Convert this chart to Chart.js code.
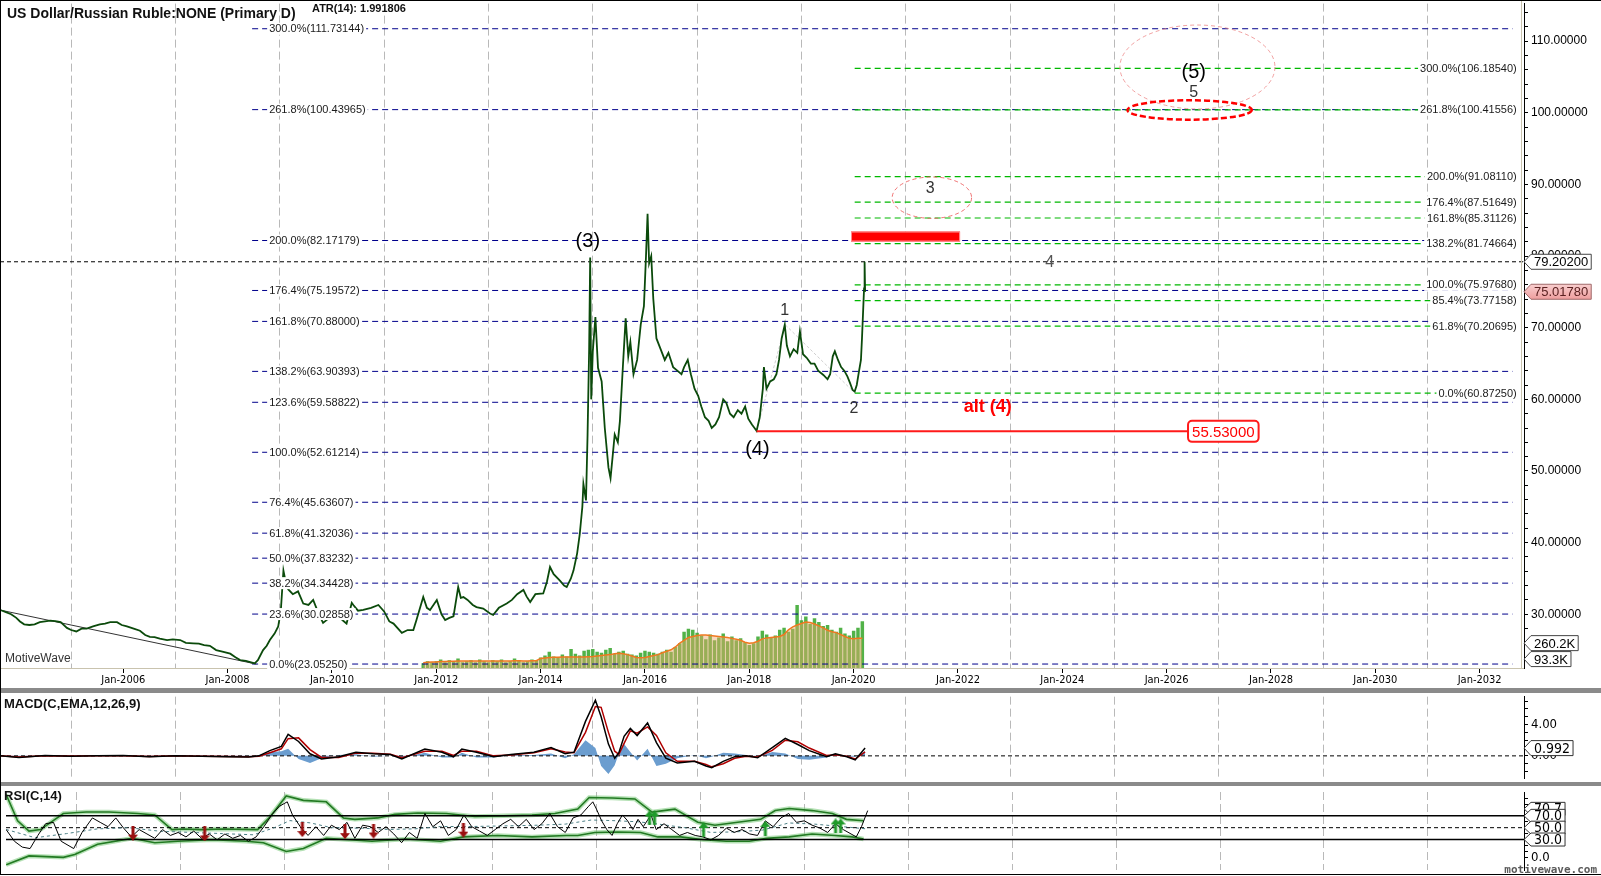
<!DOCTYPE html>
<html>
<head>
<meta charset="utf-8">
<title>US Dollar/Russian Ruble</title>
<script src="https://cdn.jsdelivr.net/npm/chart.js@4.4.1/dist/chart.umd.min.js"></script>
<style>
  html, body { margin: 0; padding: 0; background: #fff; }
  #frame { position: relative; width: 1601px; height: 876px; overflow: hidden; background: #fff; }
  #frame canvas { position: absolute; left: 0; }
  .sep { position: absolute; left: 0; width: 1601px; background: #8a8a8a; }
  #edge { position: absolute; left: 0; top: 0; width: 1601px; height: 875px; border-left: 1px solid #000; border-top: 1px solid #000; border-bottom: 1px solid #000; box-sizing: border-box; pointer-events: none; }
</style>
</head>
<body>
<div id="frame">
  <canvas id="mainChart" width="1601" height="688" style="top:0"></canvas>
  <div class="sep" style="top:688px;height:5px"></div>
  <canvas id="macdChart" width="1601" height="89" style="top:693px"></canvas>
  <div class="sep" style="top:782px;height:4px"></div>
  <canvas id="rsiChart" width="1601" height="90" style="top:786px"></canvas>
  <div id="edge"></div>
</div>
<script>
// ---- 数据 ----
// 价格 (USD/RUB, 年份为小数)
const priceYears = [
  2003.64,2003.75,2003.85,2003.95,2004.02,2004.10,2004.20,2004.30,2004.40,2004.50,
  2004.60,2004.70,2004.80,2004.92,2005.00,2005.10,2005.20,2005.30,2005.42,2005.55,
  2005.65,2005.75,2005.88,2005.97,2006.07,2006.20,2006.32,2006.42,2006.51,2006.60,
  2006.70,2006.84,2006.95,2007.09,2007.20,2007.34,2007.45,2007.55,2007.66,2007.78,
  2007.90,2008.05,2008.15,2008.24,2008.35,2008.45,2008.52,2008.58,2008.68,2008.75,
  2008.81,2008.90,2008.97,2009.02,2009.07,2009.10,2009.16,2009.25,2009.35,2009.45,
  2009.55,2009.64,2009.75,2009.83,2009.95,2010.10,2010.20,2010.28,2010.38,2010.41,
  2010.50,2010.60,2010.75,2010.89,2011.00,2011.10,2011.18,2011.34,2011.45,2011.56,
  2011.62,2011.75,2011.82,2011.88,2012.01,2012.10,2012.17,2012.25,2012.33,2012.42,
  2012.47,2012.52,2012.60,2012.70,2012.77,2012.90,2013.03,2013.09,2013.20,2013.35,
  2013.45,2013.55,2013.67,2013.73,2013.80,2013.90,2014.05,2014.12,2014.18,2014.25,
  2014.37,2014.45,2014.50,2014.58,2014.63,2014.70,2014.75,2014.80,2014.82,2014.87,
  2014.90,2014.93,2014.95,2014.97,2015.00,2015.05,2015.10,2015.17,2015.23,2015.30,
  2015.34,2015.38,2015.42,2015.48,2015.52,2015.58,2015.63,2015.68,2015.72,2015.78,
  2015.85,2015.92,2015.98,2016.02,2016.05,2016.08,2016.12,2016.16,2016.22,2016.30,
  2016.38,2016.45,2016.54,2016.62,2016.70,2016.75,2016.82,2016.88,2016.95,2017.02,
  2017.08,2017.15,2017.22,2017.28,2017.35,2017.42,2017.50,2017.56,2017.63,2017.70,
  2017.78,2017.85,2017.92,2017.98,2018.05,2018.10,2018.14,2018.20,2018.26,2018.28,
  2018.33,2018.40,2018.47,2018.52,2018.57,2018.62,2018.68,2018.72,2018.78,2018.85,
  2018.92,2018.97,2019.03,2019.10,2019.18,2019.25,2019.32,2019.42,2019.50,2019.55,
  2019.60,2019.64,2019.70,2019.76,2019.82,2019.88,2019.93,2019.98,2020.02,2020.06,
  2020.10,2020.14,2020.16,2020.18,2020.20,2020.21,2020.22
];
const priceValues = [
  30.6,30.3,30.0,29.5,29.0,28.6,28.5,28.6,28.9,29.0,
  29.1,29.05,28.9,28.1,27.8,27.6,28.0,28.0,28.3,28.6,
  28.7,28.9,28.9,28.5,28.3,28.0,27.7,27.1,26.85,26.8,
  26.6,26.4,26.5,26.4,26.0,25.95,25.9,25.7,25.6,25.0,
  24.8,24.5,24.0,23.6,23.5,23.3,23.15,23.6,25.0,25.6,
  26.4,27.3,28.3,30.5,36.1,35.0,33.5,32.8,33.2,31.5,
  31.3,32.0,30.0,28.8,29.5,30.0,29.2,28.7,31.6,31.3,
  30.5,30.6,30.9,31.3,30.4,29.0,28.7,27.4,27.8,27.8,
  29.2,32.4,30.9,30.6,32.0,30.0,29.2,29.5,29.7,33.8,
  32.3,32.4,32.0,31.3,31.0,30.8,30.1,29.9,30.9,31.5,
  32.0,32.8,33.4,32.5,31.7,32.8,32.9,34.5,36.6,35.6,
  34.7,34.0,33.8,35.0,36.1,38.5,41.2,45.0,48.2,45.9,
  55.1,67.0,79.8,60.0,66.7,71.5,64.4,62.5,56.0,50.5,
  49.0,52.0,55.1,54.0,57.0,65.0,71.3,66.0,68.0,63.5,
  65.5,70.5,73.0,80.0,85.9,79.0,80.0,74.0,68.5,67.0,
  65.5,66.5,64.5,64.0,63.5,64.5,65.5,63.5,61.5,60.5,
  59.0,57.5,57.0,56.0,56.5,57.5,60.0,59.5,58.0,57.5,
  58.5,58.0,59.0,57.3,56.5,56.0,55.6,57.5,61.5,64.5,
  61.5,62.5,62.8,63.5,65.5,68.5,70.4,67.5,66.0,67.0,
  66.5,69.5,66.3,65.8,65.0,65.0,64.0,63.4,62.8,63.5,
  66.0,66.7,65.5,64.5,64.0,63.2,62.3,61.3,61.1,62.0,
  63.8,65.5,68.5,72.0,75.5,79.2,75.0
];

// 成交量 (K), 每月一根, 从 2011 年 10 月开始
const volumeStart = 2011.75;
const volumeValues = [
  50,70,60,
  70,90,60,80,70,100,60,70,80,60,90,70,
  60,80,70,90,60,70,100,80,60,70,90,80,
  110,130,170,120,110,140,120,200,150,130,180,190,
  200,170,160,190,210,150,170,180,150,140,130,160,
  180,170,160,150,170,190,170,220,260,380,410,400,
  370,340,300,350,290,320,360,280,330,290,310,270,
  240,260,330,390,350,320,340,400,420,380,410,660,
  500,540,460,520,480,440,450,400,380,420,360,340,
  390,420,490
];
const volumeMA = [
  55,60,62,
  64,68,68,70,70,74,72,72,73,72,74,73,
  72,73,72,74,72,72,75,76,74,74,76,77,
  100,105,110,112,112,115,115,115,115,115,115,118,
  120,125,130,135,140,150,155,150,140,125,110,108,
  110,120,130,140,160,175,190,220,260,290,320,330,
  340,345,345,340,335,330,325,320,310,300,290,270,
  260,265,280,305,315,320,325,330,350,400,430,450,
  465,480,475,460,440,420,395,380,370,350,330,310,
  305,310,312
];

// 斐波那契水平
const blueFibLabels = ['300.0%','261.8%','200.0%','176.4%','161.8%','138.2%','123.6%','100.0%','76.4%','61.8%','50.0%','38.2%','23.6%','0.0%'];
const blueFibValues = [111.73144,100.43965,82.17179,75.19572,70.88000,63.90393,59.58822,52.61214,45.63607,41.32036,37.83232,34.34428,30.02858,23.05250];
const greenFibLabels = ['300.0%','261.8%','200.0%','176.4%','161.8%','138.2%','100.0%','85.4%','61.8%','0.0%'];
const greenFibValues = [106.18540,100.41556,91.08110,87.51649,85.31126,81.74664,75.97680,73.77158,70.20695,60.87250];

// 坐标轴刻度
const priceTickLabels = [30,40,50,60,70,80,90,100,110];
const labelYears = [2006,2008,2010,2012,2014,2016,2018,2020,2022,2024,2026,2028,2030,2032];
const gridYears = [2005,2007,2009,2011,2013,2015,2017,2019,2021,2023,2025,2027,2029,2031];
const macdTickLabels = [0,4];

// MACD
const macdYears = [
  2003.64,2004.00,2004.50,2005.00,2005.50,2006.00,2006.50,2007.00,2007.50,2008.00,
  2008.40,2008.60,2008.81,2009.03,2009.16,2009.36,2009.58,2009.80,2010.13,2010.46,
  2010.79,2011.12,2011.34,2011.78,2012.11,2012.33,2012.49,2012.77,2013.10,2013.43,
  2013.87,2014.20,2014.47,2014.64,2014.86,2015.05,2015.16,2015.30,2015.42,2015.50,
  2015.60,2015.72,2015.85,2016.05,2016.22,2016.40,2016.62,2016.95,2017.17,2017.28,
  2017.50,2017.72,2017.94,2018.16,2018.44,2018.69,2018.93,2019.15,2019.48,2019.65,
  2019.87,2020.03,2020.22
];
const macdValues = [
  0.00,-0.20,0.05,-0.05,0.00,0.05,-0.10,0.00,-0.05,-0.10,
  -0.15,0.00,0.67,1.20,2.75,1.84,0.27,-0.39,-0.12,0.47,
  0.27,0.16,-0.39,0.86,0.47,-0.12,0.86,0.47,-0.12,0.16,
  0.47,1.06,0.27,0.47,4.40,7.10,5.00,1.50,-0.30,0.40,
  2.50,3.50,2.60,4.20,1.70,-0.30,-0.90,-0.70,-1.30,-1.50,
  -0.70,-0.10,0.00,-0.24,1.06,2.24,1.45,0.67,-0.12,0.27,
  -0.12,-0.51,1.00
];
const signalValues = [
  0.00,-0.15,0.00,-0.03,0.00,0.03,-0.08,0.00,-0.04,-0.08,
  -0.12,-0.05,0.40,0.90,2.20,2.30,0.80,-0.20,-0.20,0.35,
  0.35,0.20,-0.25,0.60,0.60,0.05,0.60,0.60,0.00,0.10,
  0.40,0.90,0.50,0.40,3.00,6.30,6.20,3.00,0.60,0.20,
  1.60,3.20,2.90,3.70,2.60,0.40,-0.70,-0.70,-1.10,-1.40,
  -1.00,-0.30,-0.05,-0.15,0.70,2.00,1.80,1.00,0.05,0.15,
  -0.05,-0.40,0.50
];
const histValues = [
  0.05,-0.10,0.10,-0.05,0.05,0.05,-0.05,0.05,-0.05,-0.05,
  -0.05,0.10,0.50,0.60,0.90,-0.40,-0.90,-0.30,0.10,0.20,
  -0.10,0.00,-0.20,0.40,-0.20,-0.20,0.40,-0.20,-0.20,0.10,
  0.10,0.30,-0.30,0.20,2.00,1.00,-1.30,-2.30,-1.20,0.30,
  1.50,0.50,-0.60,0.90,-1.30,-1.00,-0.30,0.10,-0.30,-0.10,
  0.40,0.30,0.10,-0.10,0.50,0.30,-0.40,-0.50,-0.20,0.20,
  -0.10,-0.10,0.60
];

// RSI
const rsiYears = [
  2003.64,2003.80,2003.95,2004.10,2004.25,2004.40,2004.55,2004.70,2004.94,2005.10,
  2005.30,2005.45,2005.60,2005.75,2005.90,2006.05,2006.20,2006.35,2006.50,2006.65,
  2006.80,2006.95,2007.10,2007.25,2007.40,2007.55,2007.70,2007.85,2008.00,2008.15,
  2008.30,2008.45,2008.60,2008.75,2008.90,2009.05,2009.15,2009.30,2009.45,2009.60,
  2009.75,2009.90,2010.05,2010.20,2010.35,2010.50,2010.65,2010.80,2010.95,2011.10,
  2011.25,2011.40,2011.55,2011.70,2011.85,2012.00,2012.15,2012.30,2012.45,2012.60,
  2012.75,2012.90,2013.05,2013.20,2013.35,2013.50,2013.65,2013.80,2013.95,2014.10,
  2014.25,2014.40,2014.55,2014.70,2014.85,2014.93,2015.00,2015.10,2015.20,2015.30,
  2015.40,2015.50,2015.60,2015.70,2015.80,2015.90,2016.05,2016.15,2016.30,2016.45,
  2016.60,2016.75,2016.90,2017.05,2017.20,2017.35,2017.50,2017.65,2017.80,2017.95,
  2018.10,2018.25,2018.40,2018.55,2018.70,2018.85,2019.00,2019.15,2019.30,2019.45,
  2019.60,2019.75,2019.90,2020.00,2020.10,2020.22
];
const rsiValues = [
  46.8,27.0,17.2,14.7,36.9,56.7,59.0,27.0,14.7,41.9,
  66.5,59.0,51.7,66.5,49.3,34.4,46.8,39.4,32.0,46.8,
  36.9,41.9,34.4,44.3,32.0,39.4,29.5,39.4,32.0,36.9,
  27.0,34.4,51.7,71.5,86.3,93.7,71.5,51.7,36.9,51.7,
  36.9,54.2,46.8,59.0,32.0,54.2,51.7,41.9,51.7,39.4,
  24.6,41.9,32.0,74.0,51.7,61.6,36.9,46.8,71.5,51.7,
  44.3,36.9,46.8,56.7,64.1,51.7,64.1,46.8,56.7,74.0,
  51.7,41.9,66.5,71.5,86.3,93.7,81.4,61.6,46.8,36.9,
  56.7,71.5,61.6,46.8,64.1,51.7,71.5,46.8,56.7,46.8,
  36.9,41.9,36.9,34.4,29.5,36.9,49.3,41.9,46.8,39.4,
  36.9,61.6,51.7,66.5,74.0,59.0,61.6,54.2,49.3,41.9,
  56.7,46.8,39.4,34.4,51.7,78.9
];
const rsiMAYears = [2003.64,2004.2,2004.8,2005.4,2006.0,2006.6,2007.2,2007.8,2008.4,2008.8,2009.1,2009.5,2009.9,2010.5,2011.0,2011.5,2012.0,2012.6,2013.2,2013.8,2014.4,2014.9,2015.3,2015.8,2016.2,2016.7,2017.2,2017.7,2018.2,2018.7,2019.2,2019.7,2020.2];
const rsiMAValues = [47,33,40,48,50,44,42,40,38,50,62,58,50,49,47,48,52,52,53,54,56,63,62,60,56,50,42,43,46,58,56,52,48];
const upperYears = [2003.64,2003.86,2004.08,2004.30,2004.74,2005.18,2005.62,2006.17,2006.50,2006.83,2007.05,2007.38,2007.82,2008.48,2008.70,2009.03,2009.36,2009.80,2010.13,2010.35,2010.79,2011.12,2011.56,2012.11,2012.66,2013.21,2013.76,2014.20,2014.64,2014.86,2015.30,2015.74,2016.07,2016.51,2016.95,2017.28,2017.72,2018.16,2018.44,2018.71,2019.15,2019.54,2019.81,2020.14];
const upperValues = [106,61.6,44.3,46.8,73.9,76.4,76.4,73.9,71.5,46.8,47.8,46.8,47.8,46.8,66.5,103.6,96.2,93.7,66.5,64.1,66.5,72.5,74.9,73.9,69.0,70.0,71.5,73.9,81.4,101.1,100.1,98.6,76.4,81.4,59.1,54.2,59.1,64.1,78.9,82.3,78.9,73.9,64.1,61.6];
const lowerYears = [2003.64,2004.08,2004.74,2004.96,2005.40,2006.06,2006.50,2006.94,2007.60,2008.26,2008.59,2009.03,2009.36,2009.80,2010.24,2010.68,2011.34,2012.00,2012.44,2013.10,2013.76,2014.42,2014.64,2014.97,2015.41,2015.85,2016.18,2016.62,2017.06,2017.50,2017.94,2018.27,2018.71,2019.15,2019.59,2019.92,2020.14];
const lowerValues = [-12.5,2.3,-0.1,4.8,22.1,32.0,24.6,27.0,29.5,27.0,24.6,9.8,14.7,32.0,29.5,27.0,31.0,27.0,34.4,36.9,34.4,36.9,36.9,41.9,42.8,41.9,34.4,34.4,29.5,27.0,27.0,32.0,34.4,39.4,36.9,34.4,31.0];
const downArrowYears = [2006.08,2007.46,2009.34,2010.16,2010.71,2012.44];
const downArrowValues = [40.9,39.4,46.8,43.3,44.3,45.8];
const upArrowYears = [2016.07,2017.06,2018.25,2019.65];
const upArrowValues = [66.5,47.0,49.0,53.0];

// 最新值
const lastHigh = 79.202, lastClose = 75.0178, supportLevel = 55.53;
const lastVolume = 260.2, lastVolumeMA = 93.3, lastMacd = 0.992, lastRsi = 70.7;

// ---- 布局常量 ----
const X_MIN = 2003.637, X_MAX = 2032.85;
const BLUE_START = 2008.47, BLUE_END = 2032.63;
const GREEN_START = 2020.02, GREEN_END = 2032.71;
const FONT = "'Liberation Sans', Arial, sans-serif";
const NARROW = "'Liberation Sans Narrow', 'Arial Narrow', 'DejaVu Sans Condensed', 'Liberation Sans', sans-serif";

const toPoints = (xs, ys) => xs.map((x, i) => ({ x: x, y: ys[i] }));
const hLine = (v, x0, x1) => [{ x: x0, y: v }, { x: x1, y: v }];

function timeAxis(withLabels) {
  return {
    type: 'linear', min: X_MIN, max: X_MAX, offset: false,
    afterBuildTicks(scale) {
      scale.ticks = gridYears.concat(labelYears).sort((a, b) => a - b).map(v => ({ value: v }));
    },
    afterFit(scale) { scale.height = withLabels ? 20 : 0; },
    ticks: {
      display: withLabels, autoSkip: false, maxRotation: 0, padding: 1, color: '#000',
      font: { family: NARROW, size: 11 },
      callback: v => labelYears.includes(v) ? 'Jan-' + v : ''
    },
    grid: {
      offset: false, drawTicks: withLabels, tickLength: 5, lineWidth: 1,
      color: c => (c.tick && gridYears.includes(c.tick.value)) ? '#b9b9b9' : 'rgba(0,0,0,0)',
      tickColor: c => (c.tick && labelYears.includes(c.tick.value)) ? '#000' : 'rgba(0,0,0,0)'
    },
    border: { display: withLabels, color: '#c9c3ae', dash: [8, 4] }
  };
}

function rightAxis(min, max, tickVals, labelFn, font) {
  return {
    position: 'right', min: min, max: max,
    afterBuildTicks(scale) { scale.ticks = tickVals.map(v => ({ value: v })); },
    afterFit(scale) { scale.width = 77; },
    ticks: { padding: 3, color: '#000', font: Object.assign({ lineHeight: 0.1 }, font), callback: labelFn },
    grid: { drawOnChartArea: false, tickLength: 4, color: '#000' },
    border: { color: '#000' }
  };
}

// 右侧指针标签
function pointerBox(ctx, x, y, text, o) {
  ctx.font = o.font;
  const w = ctx.measureText(text).width + 6;
  const h = o.h || 15, tip = 7;
  ctx.beginPath();
  ctx.moveTo(x, y);
  ctx.lineTo(x + tip, y - h / 2);
  ctx.lineTo(x + tip + w, y - h / 2);
  ctx.lineTo(x + tip + w, y + h / 2);
  ctx.lineTo(x + tip, y + h / 2);
  ctx.closePath();
  ctx.fillStyle = o.fill; ctx.fill();
  ctx.lineWidth = 1; ctx.strokeStyle = o.stroke; ctx.stroke();
  ctx.fillStyle = o.color || '#000';
  ctx.textAlign = 'left'; ctx.textBaseline = 'middle';
  ctx.fillText(text, x + tip + 3, y + 1);
}

function labelWithBg(ctx, text, x, y, align) {
  const w = ctx.measureText(text).width;
  const left = align === 'right' ? x - w : x;
  ctx.fillStyle = '#fff';
  ctx.fillRect(left - 2, y - 6, w + 4, 12);
  ctx.fillStyle = '#1a1a1a';
  ctx.textAlign = 'left';
  ctx.fillText(text, left, y + 0.5);
}

// 注释：波浪标注、目标区、椭圆
const waveLabels = [
  { t: '(3)', x: 2014.905, y: 82.11, font: '20px ' + FONT, color: '#000' },
  { t: '(4)', x: 2018.156, y: 53.14, font: '20px ' + FONT, color: '#000' },
  { t: '(5)', x: 2026.52, y: 105.8, font: '20px ' + FONT, color: '#000' },
  { t: '1', x: 2018.68, y: 72.57, font: '16px ' + FONT, color: '#333' },
  { t: '2', x: 2020.006, y: 58.9, font: '16px ' + FONT, color: '#333' },
  { t: '3', x: 2021.47, y: 89.5, font: '16px ' + FONT, color: '#333' },
  { t: '4', x: 2023.76, y: 79.2, font: '16px ' + FONT, color: '#555' },
  { t: '5', x: 2026.52, y: 103.0, font: '16px ' + FONT, color: '#333' },
  { t: 'alt (4)', x: 2022.57, y: 59.04, font: 'bold 18px ' + FONT, color: '#ff0000' }
];
const ellipses = [
  { x: 2026.59, y: 106.39, rx: 1.486, ry: 5.86, color: 'rgba(236,130,130,0.75)', width: 1, dash: [4, 3] },
  { x: 2026.44, y: 100.39, rx: 1.192, ry: 1.35, color: '#ff0000', width: 2.5, dash: [6, 3] },
  { x: 2021.50, y: 88.15, rx: 0.761, ry: 2.89, color: 'rgba(236,90,90,0.85)', width: 1, dash: [4, 3] }
];
const targetZone = { x0: 2019.95, x1: 2022.04, y0: 82.03, y1: 83.42 };

const mainDecor = {
  id: 'mainDecor',
  afterDatasetsDraw(chart) {
    const { ctx, scales: { x, y } } = chart;
    ctx.save();
    // 目标区
    const zx0 = x.getPixelForValue(targetZone.x0), zx1 = x.getPixelForValue(targetZone.x1);
    const zy0 = y.getPixelForValue(targetZone.y1), zy1 = y.getPixelForValue(targetZone.y0);
    ctx.fillStyle = '#ff0000';
    ctx.fillRect(zx0, zy0, zx1 - zx0, zy1 - zy0);
    ctx.strokeStyle = '#ff8c8c'; ctx.lineWidth = 1;
    ctx.strokeRect(zx0 + 0.5, zy0 + 0.5, zx1 - zx0 - 1, zy1 - zy0 - 1);
    // 椭圆
    ellipses.forEach(e => {
      const cx = x.getPixelForValue(e.x), cy = y.getPixelForValue(e.y);
      const rx = x.getPixelForValue(e.x + e.rx) - cx, ry = cy - y.getPixelForValue(e.y + e.ry);
      ctx.beginPath();
      ctx.ellipse(cx, cy, rx, ry, 0, 0, Math.PI * 2);
      ctx.setLineDash(e.dash); ctx.lineWidth = e.width; ctx.strokeStyle = e.color; ctx.stroke();
    });
    ctx.setLineDash([]);
    // 斐波那契标签
    ctx.font = '11px ' + FONT; ctx.textBaseline = 'middle';
    const bx = x.getPixelForValue(BLUE_START) + 17;
    blueFibValues.forEach((v, i) => labelWithBg(ctx, blueFibLabels[i] + '(' + v.toFixed(5) + ')', bx, y.getPixelForValue(v), 'left'));
    const gx = x.getPixelForValue(GREEN_END);
    greenFibValues.forEach((v, i) => labelWithBg(ctx, greenFibLabels[i] + '(' + v.toFixed(5) + ')', gx, y.getPixelForValue(v), 'right'));
    // 波浪标注
    ctx.textAlign = 'center';
    waveLabels.forEach(l => {
      ctx.font = l.font; ctx.fillStyle = l.color;
      ctx.fillText(l.t, x.getPixelForValue(l.x), y.getPixelForValue(l.y) + 1);
    });
    // 支撑位标签
    const sx = x.getPixelForValue(2026.41), sy = y.getPixelForValue(supportLevel);
    ctx.font = '15px ' + FONT;
    const sw = ctx.measureText(supportLevel.toFixed(5)).width + 8;
    ctx.beginPath(); ctx.roundRect(sx, sy - 10.5, sw, 21, 4);
    ctx.fillStyle = '#fff'; ctx.fill();
    ctx.lineWidth = 2; ctx.strokeStyle = '#ff1a1a'; ctx.stroke();
    ctx.fillStyle = '#ff0000'; ctx.textAlign = 'left';
    ctx.fillText(supportLevel.toFixed(5), sx + 4, sy + 1);
    ctx.restore();
  },
  afterDraw(chart) {
    const { ctx, scales: { y, vol }, chartArea } = chart;
    ctx.save();
    ctx.strokeStyle = '#c9c3ae'; ctx.lineWidth = 1;
    ctx.beginPath(); ctx.moveTo(chartArea.right - 2.5, 0); ctx.lineTo(chartArea.right - 2.5, chartArea.bottom); ctx.stroke();
    ctx.textBaseline = 'middle'; ctx.textAlign = 'left';
    ctx.fillStyle = '#111';
    ctx.font = 'bold 14px ' + FONT;
    ctx.fillText('US Dollar/Russian Ruble:NONE (Primary D)', 7, 14);
    ctx.font = 'bold 11px ' + FONT;
    ctx.fillText('ATR(14): 1.991806', 312, 9);
    ctx.fillStyle = '#333';
    ctx.font = '12px ' + FONT;
    ctx.fillText('MotiveWave', 5, 659);
    const ax = chartArea.right;
    pointerBox(ctx, ax, y.getPixelForValue(lastHigh), lastHigh.toFixed(5), { font: '13px ' + FONT, fill: '#fff', stroke: '#444', h: 15 });
    const py = y.getPixelForValue(lastClose);
    const grad = ctx.createLinearGradient(0, py - 8, 0, py + 8);
    grad.addColorStop(0, '#f9d0d0'); grad.addColorStop(1, '#ee9c9c');
    pointerBox(ctx, ax, py, lastClose.toFixed(5), { font: '13px ' + FONT, fill: grad, stroke: '#a06a6a', color: '#5a2020', h: 15 });
    pointerBox(ctx, ax, vol.getPixelForValue(lastVolume), lastVolume.toFixed(1) + 'K', { font: '13px ' + FONT, fill: '#fff', stroke: '#444', h: 15 });
    pointerBox(ctx, ax, vol.getPixelForValue(lastVolumeMA), lastVolumeMA.toFixed(1) + 'K', { font: '13px ' + FONT, fill: '#fff', stroke: '#444', h: 15 });
    ctx.restore();
  }
};

// ---- 主图 ----
const volumePoints = volumeValues.map((v, i) => ({ x: volumeStart + i / 12, y: v }));
const volumeMAPoints = volumeMA.map((v, i) => ({ x: volumeStart + i / 12, y: v }));
const lineSet = (data, color, width, extra) => Object.assign({
  type: 'line', data: data, borderColor: color, borderWidth: width, pointRadius: 0, fill: false, tension: 0, yAxisID: 'y'
}, extra || {});

const mainSets = [
  { type: 'bar', data: volumePoints, yAxisID: 'vol', backgroundColor: 'rgba(62,170,52,0.9)', barPercentage: 0.8, categoryPercentage: 1, order: 12 },
  lineSet(volumeMAPoints, 'rgba(0,0,0,0)', 0, { yAxisID: 'vol', fill: 'origin', backgroundColor: 'rgba(240,168,105,0.45)', order: 11 }),
  lineSet(volumeMAPoints, '#f07820', 1.5, { yAxisID: 'vol', order: 10 })
];
blueFibValues.forEach(v => mainSets.push(lineSet(hLine(v, BLUE_START, BLUE_END), '#00008b', 1, { borderDash: [6, 4], order: 8 })));
greenFibValues.forEach(v => mainSets.push(lineSet(hLine(v, GREEN_START, GREEN_END), '#00b800', 1.2, { borderDash: [6, 4], order: 7 })));
mainSets.push(lineSet(hLine(lastHigh, X_MIN, X_MAX), '#000', 1, { borderDash: [4, 3], order: 6 }));
mainSets.push(lineSet([{ x: X_MIN, y: 30.59 }, { x: 2008.55, y: 23.05 }], '#333', 1, { order: 5 }));
mainSets.push(lineSet([{ x: 2018.14, y: 55.6 }, { x: 2018.69, y: 70.4 }, { x: 2020.02, y: 60.9 }], '#cfcfcf', 1, { borderDash: [3, 2], order: 4 }));
mainSets.push(lineSet(toPoints(priceYears, priceValues), '#0b4a0b', 1.8, { order: 2 }));
mainSets.push(lineSet(hLine(supportLevel, 2018.14, 2026.41), '#ff1a1a', 2, { order: 1 }));

const priceMinor = [];
for (let v = 24; v <= 114; v += 2) priceMinor.push(v);

const common = {
  responsive: false, animation: false, devicePixelRatio: 1, events: [],
  layout: { padding: 0 },
  plugins: { legend: { display: false }, tooltip: { enabled: false } }
};

new Chart(document.getElementById('mainChart'), {
  type: 'line',
  data: { datasets: mainSets },
  options: Object.assign({}, common, {
    scales: {
      x: timeAxis(true),
      y: rightAxis(22.5, 115.24, priceMinor, v => priceTickLabels.includes(v) ? v.toFixed(5) : '', { family: FONT, size: 12 }),
      vol: { display: false, min: 0, max: 6950 }
    }
  }),
  plugins: [mainDecor]
});

// ---- MACD ----
const macdDecor = {
  id: 'macdDecor',
  afterDraw(chart) {
    const { ctx, scales: { y }, chartArea } = chart;
    ctx.save();
    ctx.font = 'bold 13px ' + FONT; ctx.fillStyle = '#111';
    ctx.textBaseline = 'middle'; ctx.textAlign = 'left';
    ctx.fillText('MACD(C,EMA,12,26,9)', 4, 11);
    pointerBox(ctx, chartArea.right, y.getPixelForValue(lastMacd), lastMacd.toFixed(3), { font: '14px ' + NARROW, fill: '#fff', stroke: '#333', h: 15 });
    ctx.restore();
  }
};
const macdMinor = [-2, -1, 0, 1, 2, 3, 4, 5, 6, 7];
new Chart(document.getElementById('macdChart'), {
  type: 'line',
  data: {
    datasets: [
      lineSet(toPoints(macdYears, histValues), 'rgba(0,0,0,0)', 0, { fill: 'origin', backgroundColor: '#6b9dcf', order: 5 }),
      lineSet(hLine(0, X_MIN, X_MAX), '#000', 1, { borderDash: [4, 3], order: 4 }),
      lineSet(toPoints(macdYears, signalValues), '#b00000', 1.5, { order: 2 }),
      lineSet(toPoints(macdYears, macdValues), '#000', 1.5, { order: 1 })
    ]
  },
  options: Object.assign({}, common, {
    scales: {
      x: timeAxis(false),
      y: rightAxis(-2.87, 7.56, macdMinor, v => macdTickLabels.includes(v) ? v.toFixed(2) : '', { family: NARROW, size: 13 })
    }
  }),
  plugins: [macdDecor]
});

// ---- RSI ----
function makeArrow(color, up, twin) {
  const c = document.createElement('canvas');
  c.width = twin ? 15 : 10; c.height = 15;
  const g = c.getContext('2d');
  g.fillStyle = color;
  const draw = ox => {
    g.beginPath();
    if (up) {
      g.moveTo(ox + 5, 0); g.lineTo(ox + 10, 6); g.lineTo(ox + 6.5, 6); g.lineTo(ox + 6.5, 15);
      g.lineTo(ox + 3.5, 15); g.lineTo(ox + 3.5, 6); g.lineTo(ox, 6);
    } else {
      g.moveTo(ox + 5, 15); g.lineTo(ox + 10, 9); g.lineTo(ox + 6.5, 9); g.lineTo(ox + 6.5, 0);
      g.lineTo(ox + 3.5, 0); g.lineTo(ox + 3.5, 9); g.lineTo(ox, 9);
    }
    g.closePath(); g.fill();
  };
  draw(0);
  if (twin) draw(5);
  return c;
}
const downArrow = makeArrow('#9a0f0f', false, false);
const upArrow = makeArrow('#1f9a2a', true, false);
const upTwin = makeArrow('#1f9a2a', true, true);

const rsiDecor = {
  id: 'rsiDecor',
  afterDraw(chart) {
    const { ctx, scales: { y }, chartArea } = chart;
    ctx.save();
    ctx.font = 'bold 13px ' + FONT; ctx.fillStyle = '#111';
    ctx.textBaseline = 'middle'; ctx.textAlign = 'left';
    ctx.fillText('RSI(C,14)', 4, 10);
    const ax = chartArea.right;
    const o = { font: '14px ' + NARROW, fill: '#fff', stroke: '#333', h: 13 };
    pointerBox(ctx, ax, y.getPixelForValue(70) - 7, lastRsi.toFixed(1), o);
    [70, 50, 30].forEach(v => pointerBox(ctx, ax, y.getPixelForValue(v), v.toFixed(1), o));
    ctx.font = 'bold 11px "DejaVu Sans Mono", monospace';
    ctx.fillStyle = '#5a5a5a'; ctx.textAlign = 'right';
    ctx.fillText('motivewave.com', 1597, 84);
    ctx.restore();
  }
};
const rsiMinor = [0, 10, 20, 30, 40, 50, 60, 70, 80, 90, 100];
new Chart(document.getElementById('rsiChart'), {
  type: 'line',
  data: {
    datasets: [
      lineSet(toPoints(upperYears, upperValues), 'rgba(120,200,120,0.55)', 4.5, { order: 9 }),
      lineSet(toPoints(lowerYears, lowerValues), 'rgba(120,200,120,0.55)', 4.5, { order: 9 }),
      lineSet(toPoints(upperYears, upperValues), '#237a23', 1.6, { order: 8 }),
      lineSet(toPoints(lowerYears, lowerValues), '#237a23', 1.6, { order: 8 }),
      lineSet(hLine(70, X_MIN, X_MAX), '#000', 1.5, { order: 7 }),
      lineSet(hLine(30, X_MIN, X_MAX), '#000', 1.5, { order: 7 }),
      lineSet(hLine(50, X_MIN, X_MAX), '#000', 1, { borderDash: [4, 3], order: 7 }),
      lineSet(toPoints(rsiMAYears, rsiMAValues), '#4a7e84', 1, { borderDash: [3, 3], order: 6 }),
      lineSet(toPoints(rsiYears, rsiValues), '#000', 1, { order: 5 }),
      { type: 'scatter', data: toPoints(downArrowYears, downArrowValues), pointStyle: downArrow, pointRadius: 5, order: 1 },
      { type: 'scatter', data: toPoints(upArrowYears, upArrowValues), pointStyle: [upTwin, upArrow, upArrow, upTwin], pointRadius: 5, order: 1 }
    ]
  },
  options: Object.assign({}, common, {
    scales: {
      x: timeAxis(false),
      y: rightAxis(-21.5, 110.3, rsiMinor, v => v === 0 ? '0.0' : '', { family: NARROW, size: 13 })
    }
  }),
  plugins: [rsiDecor]
});
</script>
</body>
</html>
